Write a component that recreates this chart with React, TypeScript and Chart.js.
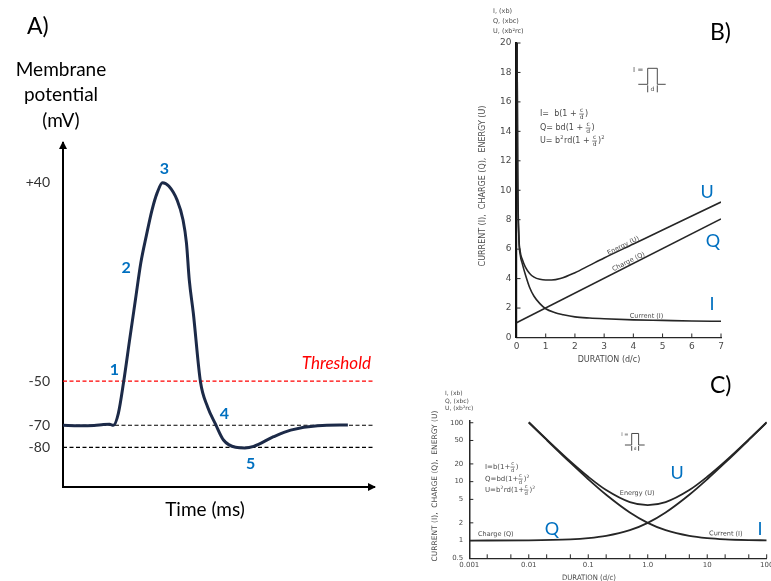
import React, { useEffect, useRef } from 'react';
import { Chart, registerables } from 'chart.js';

Chart.register(...registerables);

// ---------------- Panel A : action potential ----------------
const apTime = [0, 0.5, 1.0, 1.3, 1.5, 1.62, 1.78, 1.95, 2.15, 2.33, 2.5, 2.68, 2.86, 3.03, 3.2, 3.4, 3.67, 3.86, 3.97, 4.06, 4.19, 4.42, 4.65, 4.9, 5.16, 5.55, 5.85, 6.13, 6.77, 7.32, 8.19, 9.16];
const apVoltage = [-70, -70.2, -70.1, -69.7, -69.6, -70, -64.6, -50.3, -30.5, -13, 3.5, 16, 27.5, 35.5, 40, 38.5, 32.1, 23.1, 12.6, -4.1, -19.1, -50.3, -61.7, -69.4, -76.7, -80, -80.3, -79.6, -75.2, -72.2, -70.2, -69.9];
const apTickValues = [-80, -70, -50, 40];
const thresholdMv = -50;
const restingMv = -70;
const hyperpolMv = -80;
const phaseNames = ['1', '2', '3', '4', '5'];
const phaseTime = [1.65, 2.03, 3.26, 5.19, 6.03];
const phaseMv = [-45, 1.3, 46.2, -64.9, -87.6];

// ---------------- Panel B : linear strength-duration ----------------
const bDurI = [0.02, 0.04, 0.08, 0.13, 0.2, 0.3, 0.45, 0.6, 0.8, 1, 1.3, 1.6, 2, 2.5, 3, 4, 5, 6, 7];
const bCurrent = [20, 11, 6.8, 5.6, 5.0, 4.3, 3.4, 2.8, 2.3, 1.95, 1.7, 1.55, 1.4, 1.32, 1.27, 1.2, 1.16, 1.12, 1.1];
const bDurQ = [0, 7];
const bCharge = [1, 8.05];
const bDurU = [0.02, 0.04, 0.08, 0.13, 0.2, 0.3, 0.45, 0.6, 0.8, 1, 1.2, 1.5, 2, 2.5, 3, 4, 5, 6, 7];
const bEnergy = [20, 11.5, 7.0, 5.8, 5.3, 4.8, 4.35, 4.1, 3.95, 3.9, 3.9, 4.0, 4.4, 4.9, 5.4, 6.35, 7.3, 8.25, 9.2];
const bTickX = [0, 1, 2, 3, 4, 5, 6, 7];
const bTickY = [0, 2, 4, 6, 8, 10, 12, 14, 16, 18, 20];

// ---------------- Panel C : log-log strength-duration ----------------
const cDurI = [0.01, 0.02, 0.05, 0.1, 0.2, 0.5, 1, 2, 5, 10, 20, 50, 100];
const cCurrent = [101, 51, 21, 11, 6, 3, 2, 1.5, 1.2, 1.1, 1.05, 1.02, 1.01];
const cDurQ = [0.001, 0.01, 0.05, 0.1, 0.2, 0.5, 1, 2, 5, 10, 20, 50, 100];
const cCharge = [1, 1.01, 1.05, 1.1, 1.2, 1.5, 2, 3, 6, 11, 21, 51, 101];
const cDurU = [0.01, 0.02, 0.05, 0.1, 0.2, 0.5, 1, 2, 5, 10, 20, 50, 100];
const cEnergy = [102, 52, 22, 12.1, 7.2, 4.5, 4, 4.5, 7.2, 12.1, 22, 52, 102];
const cTickXValues = [0.001, 0.01, 0.1, 1, 10, 100];
const cTickXLabels = ['0.001', '0.01', '0.1', '1.0', '10', '100'];
const cTickYValues = [0.5, 1, 2, 5, 10, 20, 50, 100];
const cTickYLabels = ['0.5', '1', '2', '5', '10', '20', '50', '100'];
const cMinorX = [0.002, 0.005, 0.01, 0.02, 0.05, 0.1, 0.2, 0.5, 1, 2, 5, 10, 20, 50, 100];

// ---------------- styles ----------------
const FONT_UI = 'Lato, "Open Sans", "Noto Sans", sans-serif';
const FONT_SCAN = '"DejaVu Sans", "Liberation Sans", sans-serif';
const BLUE = '#0070C0';
const INK = '#262626';
const SCAN_TEXT = '#4a4a4a';

const pts = (xs: number[], ys: number[]) => xs.map((x, i) => ({ x, y: ys[i] }));

type Part = string | { frac: [string, string] } | { sup: string };
function drawFormula(ctx: any, x: number, y: number, parts: Part[], size: number) {
  ctx.textBaseline = 'middle';
  let cx = x;
  for (const p of parts) {
    if (typeof p === 'string') {
      ctx.font = `${size}px ${FONT_SCAN}`;
      ctx.textAlign = 'left';
      ctx.fillText(p, cx, y);
      cx += ctx.measureText(p).width;
    } else if ('frac' in p) {
      const s = size * 0.75;
      ctx.font = `${s}px ${FONT_SCAN}`;
      const w = Math.max(ctx.measureText(p.frac[0]).width, ctx.measureText(p.frac[1]).width) + 1;
      ctx.textAlign = 'center';
      ctx.fillText(p.frac[0], cx + w / 2, y - s * 0.6);
      ctx.fillText(p.frac[1], cx + w / 2, y + s * 0.65);
      ctx.fillRect(cx, y - 0.3, w, 0.7);
      cx += w + 1;
    } else {
      const s = size * 0.65;
      ctx.font = `${s}px ${FONT_SCAN}`;
      ctx.textAlign = 'left';
      ctx.fillText(p.sup, cx, y - size * 0.38);
      cx += ctx.measureText(p.sup).width + 0.5;
    }
  }
}

function drawPulse(ctx: any, ox: number, oy: number, k: number) {
  ctx.save();
  ctx.strokeStyle = SCAN_TEXT;
  ctx.fillStyle = SCAN_TEXT;
  ctx.lineWidth = 1;
  ctx.beginPath();
  ctx.moveTo(ox - 9.4 * k, oy);
  ctx.lineTo(ox, oy);
  ctx.lineTo(ox, oy - 16 * k);
  ctx.lineTo(ox + 9.6 * k, oy - 16 * k);
  ctx.lineTo(ox + 9.6 * k, oy);
  ctx.lineTo(ox + 18 * k, oy);
  ctx.moveTo(ox, oy + 1);
  ctx.lineTo(ox, oy + 8 * k);
  ctx.moveTo(ox + 9.6 * k, oy + 1);
  ctx.lineTo(ox + 9.6 * k, oy + 8 * k);
  ctx.stroke();
  ctx.textAlign = 'center';
  ctx.textBaseline = 'middle';
  ctx.font = `${7 * k}px ${FONT_SCAN}`;
  ctx.fillText('I =', ox - 9.5 * k, oy - 14 * k);
  ctx.font = `${6 * k}px ${FONT_SCAN}`;
  ctx.fillText('d', ox + 4.8 * k, oy + 4.8 * k);
  ctx.restore();
}

function labelAlong(ctx: any, text: string, p1: any, p2: any, off: number) {
  const ang = Math.atan2(p2.y - p1.y, p2.x - p1.x);
  ctx.save();
  ctx.translate((p1.x + p2.x) / 2, (p1.y + p2.y) / 2);
  ctx.rotate(ang);
  ctx.textAlign = 'center';
  ctx.textBaseline = 'middle';
  ctx.fillText(text, 0, -off);
  ctx.restore();
}

function rotatedText(ctx: any, text: string, x: number, y: number, maxW: number) {
  ctx.save();
  ctx.translate(x, y);
  ctx.rotate(-Math.PI / 2);
  ctx.textAlign = 'center';
  ctx.textBaseline = 'middle';
  ctx.fillText(text, 0, 0, maxW);
  ctx.restore();
}

// ---------------- Panel A config ----------------
function makeA(): any {
  const level = (v: number) => [{ x: 0, y: v }, { x: 10, y: v }];
  const annot = {
    id: 'annotA',
    afterDraw(chart: any) {
      const { ctx, chartArea } = chart;
      const { left: L, right: R, top: T, bottom: B } = chartArea;
      const xs = chart.scales.x;
      const ys = chart.scales.y;
      ctx.save();
      ctx.fillStyle = '#000';
      ctx.beginPath();
      ctx.moveTo(L, T - 2);
      ctx.lineTo(L - 4, T + 6);
      ctx.lineTo(L + 4, T + 6);
      ctx.closePath();
      ctx.fill();
      ctx.beginPath();
      ctx.moveTo(R + 2, B);
      ctx.lineTo(R - 6, B - 4);
      ctx.lineTo(R - 6, B + 4);
      ctx.closePath();
      ctx.fill();

      ctx.textBaseline = 'middle';
      ctx.textAlign = 'left';
      ctx.font = `23px ${FONT_UI}`;
      ctx.fillText('A)', 27, 27);
      ctx.textAlign = 'center';
      ctx.font = `19px ${FONT_UI}`;
      ctx.fillText('Membrane', 61, 70);
      ctx.fillText('potential', 61, 95);
      ctx.fillText('(mV)', 61, 121);
      ctx.fillText('Time (ms)', 205, 510);

      ctx.fillStyle = '#ff0000';
      ctx.font = `italic 17px ${FONT_UI}`;
      ctx.textAlign = 'right';
      ctx.fillText('Threshold', R - 3, ys.getPixelForValue(thresholdMv) - 18);

      ctx.fillStyle = BLUE;
      ctx.font = `bold 16px ${FONT_UI}`;
      ctx.textAlign = 'center';
      phaseNames.forEach((n, i) => {
        ctx.fillText(n, xs.getPixelForValue(phaseTime[i]), ys.getPixelForValue(phaseMv[i]));
      });
      ctx.restore();
    },
  };
  const dash = { borderWidth: 1.2, borderDash: [4, 2.5], pointRadius: 0, fill: false };
  return {
    type: 'line',
    data: {
      datasets: [
        { data: pts(apTime, apVoltage), borderColor: '#1c2a48', borderWidth: 3, pointRadius: 0, cubicInterpolationMode: 'monotone', fill: false },
        { data: level(thresholdMv), borderColor: '#ff0000', ...dash },
        { data: level(restingMv), borderColor: '#000', ...dash },
        { data: level(hyperpolMv), borderColor: '#000', ...dash },
      ],
    },
    options: {
      animation: false,
      responsive: false,
      devicePixelRatio: 1,
      layout: { padding: { left: 0, top: 143, right: 26, bottom: 0 } },
      plugins: { legend: { display: false }, tooltip: { enabled: false } },
      scales: {
        x: {
          type: 'linear', min: 0, max: 10,
          grid: { display: false, drawTicks: false },
          border: { display: true, color: '#000', width: 2 },
          ticks: { display: false },
          afterFit: (s: any) => { s.height = 94; },
        },
        y: {
          type: 'linear', min: -98, max: 58,
          grid: { display: false, drawTicks: false },
          border: { display: true, color: '#000', width: 2 },
          ticks: {
            autoSkip: false, padding: 13, color: '#333',
            font: { family: FONT_UI, size: 14 },
            callback: (v: number) => (v > 0 ? `+${v}` : `${v}`),
          },
          afterBuildTicks: (s: any) => { s.ticks = apTickValues.map((v) => ({ value: v })); },
          afterFit: (s: any) => { s.width = 63; },
        },
      },
    },
    plugins: [annot],
  };
}

// ---------------- Panel B config ----------------
function makeB(): any {
  const line = { borderColor: INK, borderWidth: 1.6, pointRadius: 0, fill: false, cubicInterpolationMode: 'monotone' };
  const annot = {
    id: 'annotB',
    afterDraw(chart: any) {
      const { ctx, chartArea } = chart;
      const { left: L, bottom: B } = chartArea;
      const xs = chart.scales.x;
      const ys = chart.scales.y;
      const P = (x: number, y: number) => ({ x: xs.getPixelForValue(x), y: ys.getPixelForValue(y) });
      ctx.save();
      ctx.strokeStyle = INK;
      ctx.lineWidth = 1;
      ctx.beginPath();
      bTickX.slice(1).forEach((v) => { const px = xs.getPixelForValue(v); ctx.moveTo(px, B); ctx.lineTo(px, B - 4); });
      bTickY.slice(1).forEach((v) => { const py = ys.getPixelForValue(v); ctx.moveTo(L, py); ctx.lineTo(L + 4, py); });
      ctx.stroke();

      ctx.fillStyle = SCAN_TEXT;
      ctx.textBaseline = 'middle';
      ctx.textAlign = 'left';
      ctx.font = `6.5px ${FONT_SCAN}`;
      ctx.fillText('I, (xb)', 93, 11);
      ctx.fillText('Q, (xbc)', 93, 21);
      ctx.fillText('U, (xb\u00b2rc)', 93, 31);

      ctx.font = `8px ${FONT_SCAN}`;
      rotatedText(ctx, 'CURRENT (I),  CHARGE (Q),  ENERGY (U)', 83, 186, 176);
      ctx.textAlign = 'center';
      ctx.fillText('DURATION (d/c)', 209, 360, 68);

      drawFormula(ctx, 140, 114, ['I=  b(1 + ', { frac: ['c', 'd'] }, ')'], 8);
      drawFormula(ctx, 140, 128, ['Q= bd(1 + ', { frac: ['c', 'd'] }, ')'], 8);
      drawFormula(ctx, 140, 141, ['U= b', { sup: '2' }, 'rd(1 + ', { frac: ['c', 'd'] }, ')', { sup: '2' }], 8);

      drawPulse(ctx, 247.7, 84.3, 1);

      ctx.fillStyle = SCAN_TEXT;
      ctx.font = `6.5px ${FONT_SCAN}`;
      labelAlong(ctx, 'Energy (U)', P(3.1, 5.45), P(4.3, 6.65), 3);
      labelAlong(ctx, 'Charge (Q)', P(3.3, 4.3), P(4.5, 5.5), 4);
      labelAlong(ctx, 'Current (I)', P(3.9, 1.19), P(5.0, 1.16), 4);

      ctx.fillStyle = BLUE;
      ctx.font = `18px ${FONT_UI}`;
      ctx.textAlign = 'center';
      ctx.fillText('U', 307, 192);
      ctx.fillText('Q', 313, 241);
      ctx.fillText('I', 312, 304);
      ctx.fillStyle = '#000';
      ctx.font = `23px ${FONT_UI}`;
      ctx.textAlign = 'left';
      ctx.fillText('B)', 310, 33);
      ctx.restore();
    },
  };
  return {
    type: 'line',
    data: {
      datasets: [
        { data: pts(bDurI, bCurrent), ...line },
        { data: pts(bDurQ, bCharge), ...line },
        { data: pts(bDurU, bEnergy), ...line },
      ],
    },
    options: {
      animation: false,
      responsive: false,
      devicePixelRatio: 1,
      layout: { padding: { left: 0, top: 43, right: 50, bottom: 0 } },
      plugins: { legend: { display: false }, tooltip: { enabled: false } },
      scales: {
        x: {
          type: 'linear', min: 0, max: 7,
          grid: { display: false, drawTicks: false },
          border: { display: true, color: INK, width: 1.3 },
          ticks: { autoSkip: false, padding: 4, color: SCAN_TEXT, font: { family: FONT_SCAN, size: 9 } },
          afterBuildTicks: (s: any) => { s.ticks = bTickX.map((v) => ({ value: v })); },
          afterFit: (s: any) => { s.height = 30.5; s.paddingLeft = 0; s.paddingRight = 0; },
        },
        y: {
          type: 'linear', min: 0, max: 20,
          grid: { display: false, drawTicks: false },
          border: { display: true, color: '#111', width: 2.2 },
          ticks: { autoSkip: false, padding: 5, color: SCAN_TEXT, font: { family: FONT_SCAN, size: 9 } },
          afterBuildTicks: (s: any) => { s.ticks = bTickY.map((v) => ({ value: v })); },
          afterFit: (s: any) => { s.width = 116.5; s.paddingTop = 0; s.paddingBottom = 0; },
        },
      },
    },
    plugins: [annot],
  };
}

// ---------------- Panel C config ----------------
function makeC(): any {
  const line = { borderColor: INK, borderWidth: 1.8, pointRadius: 0, fill: false, cubicInterpolationMode: 'monotone' };
  const annot = {
    id: 'annotC',
    afterDraw(chart: any) {
      const { ctx, chartArea } = chart;
      const { left: L, bottom: B } = chartArea;
      const xs = chart.scales.x;
      const ys = chart.scales.y;
      const P = (x: number, y: number) => ({ x: xs.getPixelForValue(x), y: ys.getPixelForValue(y) });
      ctx.save();
      ctx.strokeStyle = INK;
      ctx.lineWidth = 1;
      ctx.beginPath();
      cMinorX.forEach((v) => { const px = xs.getPixelForValue(v); ctx.moveTo(px, B); ctx.lineTo(px, B - 4); });
      cTickYValues.slice(1).forEach((v) => { const py = ys.getPixelForValue(v); ctx.moveTo(L, py); ctx.lineTo(L + 4, py); });
      ctx.stroke();

      ctx.fillStyle = SCAN_TEXT;
      ctx.textBaseline = 'middle';
      ctx.textAlign = 'left';
      ctx.font = `6px ${FONT_SCAN}`;
      ctx.fillText('I, (xb)', 45, 25);
      ctx.fillText('Q, (xbc)', 45, 33);
      ctx.fillText('U, (xb\u00b2rc)', 45, 40);

      ctx.font = `7.5px ${FONT_SCAN}`;
      rotatedText(ctx, 'CURRENT (I),  CHARGE (Q),  ENERGY (U)', 35, 118, 165);
      ctx.textAlign = 'center';
      ctx.fillText('DURATION (d/c)', 189, 210, 54);

      drawFormula(ctx, 85, 99, ['I=b(1+', { frac: ['c', 'd'] }, ')'], 7);
      drawFormula(ctx, 85, 111, ['Q=bd(1+', { frac: ['c', 'd'] }, ')', { sup: '2' }], 7);
      drawFormula(ctx, 85, 122, ['U=b', { sup: '2' }, 'rd(1+', { frac: ['c', 'd'] }, ')', { sup: '2' }], 7);

      drawPulse(ctx, 231.7, 77, 0.72);

      ctx.fillStyle = SCAN_TEXT;
      ctx.font = `6.5px ${FONT_SCAN}`;
      labelAlong(ctx, 'Charge (Q)', P(0.0017, 1), P(0.0046, 1), 6);
      labelAlong(ctx, 'Current (I)', P(12, 1.06), P(35, 1.04), 5.5);
      labelAlong(ctx, 'Energy (U)', P(0.4, 4.2), P(1.1, 4.2), 11);

      ctx.fillStyle = BLUE;
      ctx.font = `18px ${FONT_UI}`;
      ctx.textAlign = 'center';
      ctx.fillText('U', 277, 105);
      ctx.fillText('Q', 152, 161);
      ctx.fillText('I', 360, 161);
      ctx.fillStyle = '#000';
      ctx.font = `23px ${FONT_UI}`;
      ctx.textAlign = 'left';
      ctx.fillText('C)', 310, 18);
      ctx.restore();
    },
  };
  return {
    type: 'line',
    data: {
      datasets: [
        { data: pts(cDurI, cCurrent), ...line },
        { data: pts(cDurQ, cCharge), ...line },
        { data: pts(cDurU, cEnergy), ...line },
      ],
    },
    options: {
      animation: false,
      responsive: false,
      devicePixelRatio: 1,
      layout: { padding: { left: 0, top: 52.3, right: 4.3, bottom: 0 } },
      plugins: { legend: { display: false }, tooltip: { enabled: false } },
      scales: {
        x: {
          type: 'logarithmic', min: 0.001, max: 100,
          grid: { display: false, drawTicks: false },
          border: { display: true, color: INK, width: 1.3 },
          ticks: {
            autoSkip: false, padding: 3, color: SCAN_TEXT, maxRotation: 0,
            font: { family: FONT_SCAN, size: 7 },
            callback: (v: number) => { const i = cTickXValues.findIndex((t) => Math.abs(t - v) / t < 1e-6); return i >= 0 ? cTickXLabels[i] : ''; },
          },
          afterBuildTicks: (s: any) => { s.ticks = cTickXValues.map((v) => ({ value: v })); },
          afterFit: (s: any) => { s.height = 22.7; s.paddingLeft = 0; s.paddingRight = 0; },
        },
        y: {
          type: 'logarithmic', min: 0.5, max: 110,
          grid: { display: false, drawTicks: false },
          border: { display: true, color: INK, width: 1.5 },
          ticks: {
            autoSkip: false, padding: 6, color: SCAN_TEXT,
            font: { family: FONT_SCAN, size: 7 },
            callback: (v: number) => { const i = cTickYValues.findIndex((t) => Math.abs(t - v) / t < 1e-6); return i >= 0 ? cTickYLabels[i] : ''; },
          },
          afterBuildTicks: (s: any) => { s.ticks = cTickYValues.map((v) => ({ value: v })); },
          afterFit: (s: any) => { s.width = 69.3; s.paddingTop = 0; s.paddingBottom = 0; },
        },
      },
    },
    plugins: [annot],
  };
}

function ChartCanvas({ x, y, w, h, make }: { x: number; y: number; w: number; h: number; make: () => any }) {
  const ref = useRef<HTMLCanvasElement>(null);
  useEffect(() => {
    const chart = new Chart(ref.current as HTMLCanvasElement, make());
    return () => chart.destroy();
  }, []);
  return (
    <canvas
      ref={ref}
      width={w}
      height={h}
      style={{ position: 'absolute', left: x, top: y, width: w, height: h, display: 'block' }}
    />
  );
}

export default function App() {
  return (
    <div style={{ position: 'fixed', left: 0, top: 0, width: 771, height: 581, background: '#fff', overflow: 'hidden' }}>
      <ChartCanvas x={0} y={0} w={400} h={581} make={makeA} />
      <ChartCanvas x={400} y={0} w={371} h={368} make={makeB} />
      <ChartCanvas x={400} y={368} w={371} h={213} make={makeC} />
    </div>
  );
}
